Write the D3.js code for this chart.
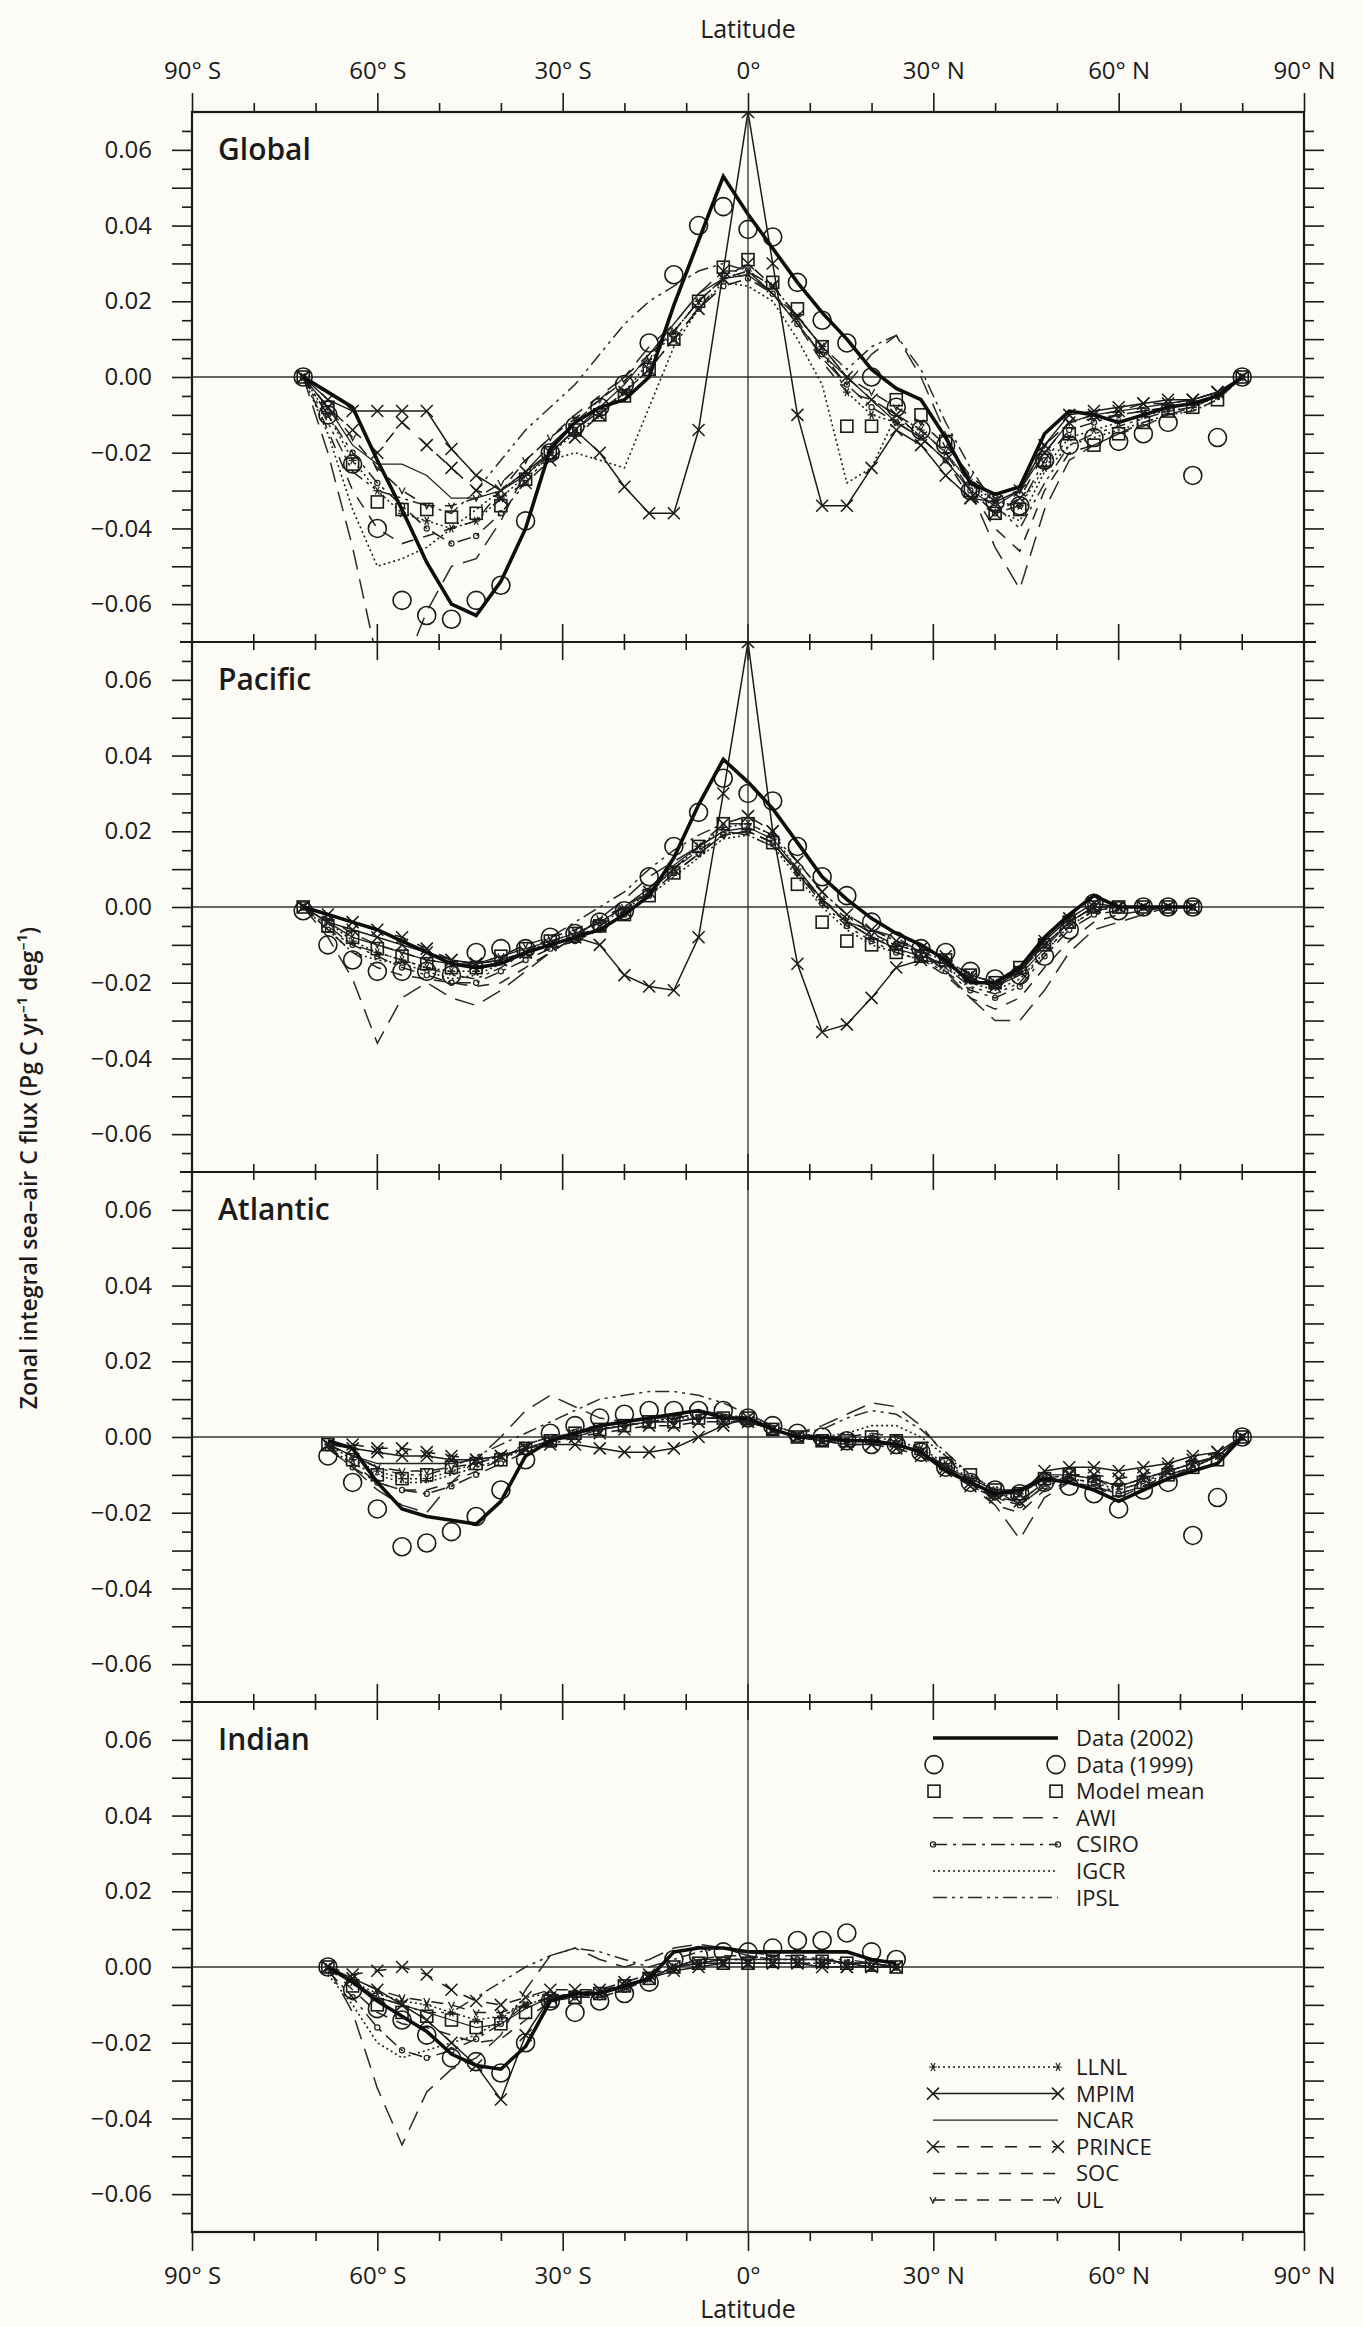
<!DOCTYPE html>
<html>
<head>
<meta charset="utf-8">
<script src="https://cdn.jsdelivr.net/npm/d3@7"></script>
<style>
body { margin: 0; background: #fcfbf6; }
svg { display: block; }
text { font-family: "Open Sans", "Noto Sans", sans-serif; fill: #1b1b1b; }
</style>
</head>
<body>
<svg id="chart" width="1363" height="2327"></svg>
<script>
// latitude grid (deg), flux values in 10^-3 Pg C yr-1 deg-1
const lats = [-72,-68,-64,-60,-56,-52,-48,-44,-40,-36,-32,-28,-24,-20,-16,-12,-8,-4,0,4,8,12,16,20,24,28,32,36,40,44,48,52,56,60,64,68,72,76,80]

// Global
const glo_data2002 = [0,-4,-8,-22,-35,-49,-60,-63,-54,-40, -19,-12,-8,-6,0,19,36,53,43,34, 25,17,10,2,-3,-6,-16,-28,-31,-29, -15,-9,-10,-12,-10,-8,-7,-5,0]
const glo_data1999 = [0,-10,-23,-40,-59,-63,-64,-59,-55,-38, -20,-13,-8,-2,9,27,40,45,39,37, 25,15,9,0,-8,-14,-18,-30,-33,-34, -22,-18,-16,-17,-15,-12,-26,-16,0]
const glo_mean = [0,-8,-23,-33,-35,-35,-37,-36,-34,-27, -20,-14,-10,-5,2,10,20,29,31,25, 18,8,-13,-13,-6,-10,-17,-30,-36,-35, -22,-15,-18,-15,-12,-9,-8,-6,0]
const glo_awi = [0,-20,-45,-75,-78,-62,-50,-48,-38,-25, -18,-12,-6,0,8,14,22,28,28,22, 15,5,-2,6,11,0,-15,-30,-45,-56, -35,-22,-18,-15,-13,-10,-8,-5,0]
const glo_csiro = [0,-10,-20,-28,-34,-40,-44,-42,-36,-28, -20,-14,-9,-4,2,10,18,24,26,22, 14,6,-2,-8,-12,-16,-22,-30,-36,-34, -22,-14,-12,-10,-9,-8,-7,-5,0]
const glo_igcr = [0,-15,-35,-50,-48,-45,-40,-35,-30,-25, -22,-20,-22,-24,-8,8,18,25,24,20, 10,-2,-28,-24,-10,-14,-20,-28,-35,-38, -25,-18,-16,-14,-12,-10,-9,-6,0]
const glo_ipsl = [0,-12,-25,-30,-32,-34,-36,-30,-22,-14, -8,-2,6,14,20,24,28,30,28,22, 16,8,2,8,11,2,-12,-24,-34,-40, -28,-18,-15,-13,-11,-9,-8,-5,0]
const glo_llnl = [0,-10,-22,-30,-36,-38,-40,-38,-32,-26, -20,-15,-10,-4,4,12,20,26,28,24, 16,8,-4,-10,-12,-14,-20,-28,-33,-34, -24,-16,-14,-12,-10,-9,-8,-5,0]
const glo_mpim = [0,-6,-9,-9,-9,-9,-19,-26,-30,-25, -20,-14,-20,-29,-36,-36,-14,28,70,30, -10,-34,-34,-24,-14,-18,-26,-32,-33,-30, -18,-10,-9,-8,-7,-6,-6,-4,0]
const glo_ncar = [0,-8,-18,-23,-23,-26,-32,-32,-30,-26, -20,-14,-8,-2,6,14,22,26,27,22, 14,6,0,-6,-12,-16,-22,-30,-34,-30, -20,-12,-10,-9,-8,-7,-6,-4,0]
const glo_prince = [0,-8,-14,-20,-12,-18,-24,-30,-32,-28, -22,-16,-10,-4,2,10,18,26,30,24, 16,8,0,-6,-10,-16,-22,-32,-36,-32, -20,-12,-10,-9,-7,-7,-6,-4,0]
const glo_soc = [0,-14,-30,-40,-44,-42,-40,-38,-30,-22, -16,-10,-5,0,6,12,20,26,27,22, 14,4,-4,-6,-10,-14,-20,-30,-40,-46, -30,-20,-18,-15,-12,-10,-9,-6,0]
const glo_ul = [0,-8,-16,-24,-30,-34,-34,-32,-28,-22, -16,-11,-6,-1,5,12,20,26,28,24, 16,8,0,-4,-8,-12,-18,-26,-32,-30, -18,-12,-11,-10,-9,-8,-7,-5,0]

// Pacific (ends at 72 N)
const pac_data2002 = [0,-2,-4,-6,-9,-12,-15,-16,-15,-12, -10,-8,-6,-2,3,13,27,39,33,26, 17,8,2,-3,-7,-10,-14,-20,-20,-16, -8,-2,3,0,0,0,0]
const pac_data1999 = [-1,-10,-14,-17,-17,-17,-18,-12,-11,-11, -8,-7,-4,-1,8,16,25,34,30,28, 16,8,3,-4,-9,-11,-12,-17,-19,-18, -13,-6,1,-1,0,0,0]
const pac_mean = [0,-5,-8,-11,-13,-15,-16,-16,-13,-11, -9,-7,-5,-2,3,9,16,22,22,17, 6,-4,-9,-10,-12,-13,-14,-18,-20,-16, -10,-4,0,0,0,0,0]
const pac_awi = [0,-8,-19,-36,-24,-20,-24,-26,-22,-17, -12,-8,-3,2,8,12,16,20,19,16, 10,2,-4,-6,-8,-12,-17,-24,-30,-30, -22,-12,-6,-4,-2,0,0]
const pac_csiro = [0,-6,-10,-13,-16,-18,-20,-20,-17,-14, -11,-9,-6,-2,3,9,14,19,20,17, 9,1,-5,-9,-12,-14,-17,-22,-24,-21, -13,-6,-2,-1,0,0,0]
const pac_igcr = [0,-6,-12,-14,-15,-17,-19,-18,-15,-12, -10,-8,-6,-2,3,8,13,18,19,16, 8,0,-6,-10,-12,-14,-16,-20,-22,-19, -12,-5,-1,0,0,0,0]
const pac_ipsl = [0,-5,-10,-12,-14,-16,-18,-19,-16,-12, -8,-4,0,4,10,15,19,22,22,19, 12,4,-2,-6,-9,-12,-16,-21,-23,-20, -12,-5,-1,0,0,0,0]
const pac_llnl = [0,-4,-9,-12,-14,-16,-17,-17,-14,-12, -9,-7,-4,-1,4,10,16,21,22,19, 10,2,-4,-8,-10,-12,-14,-18,-20,-17, -10,-4,0,0,0,0,0]
const pac_mpim = [0,-4,-6,-8,-10,-12,-14,-15,-14,-12, -10,-8,-10,-18,-21,-22,-8,30,70,20, -15,-33,-31,-24,-16,-14,-15,-19,-21,-17, -9,-3,1,0,0,0,0]
const pac_ncar = [0,-4,-8,-10,-12,-14,-15,-15,-13,-11, -9,-7,-4,0,5,11,16,20,21,18, 10,2,-4,-8,-11,-13,-15,-19,-21,-18, -11,-4,0,0,0,0,0]
const pac_prince = [0,-2,-4,-6,-8,-11,-14,-15,-14,-12, -10,-8,-5,-1,4,10,16,22,24,20, 12,4,-2,-6,-9,-11,-13,-18,-20,-17, -10,-4,0,0,0,0,0]
const pac_soc = [0,-6,-12,-16,-18,-19,-20,-21,-20,-16, -12,-8,-4,0,5,10,15,19,20,17, 9,1,-4,-8,-11,-14,-18,-24,-27,-24, -16,-9,-4,-2,-1,0,0]
const pac_ul = [0,-3,-7,-10,-12,-14,-15,-15,-13,-10, -8,-6,-3,0,4,9,14,19,20,17, 9,2,-3,-7,-10,-12,-14,-18,-20,-17, -10,-4,0,0,0,0,0]

// Atlantic (starts at 68 S)
const atl_data2002 = [null,-1,-3,-12,-19,-21,-22,-23,-17,-5, -1,1,3,4,5,6,7,5,5,2, 0,0,-1,-1,-2,-4,-9,-12,-15,-14, -11,-12,-14,-17,-14,-11,-9,-7,0]
const atl_data1999 = [null,-5,-12,-19,-29,-28,-25,-21,-14,-6, 1,3,5,6,7,7,7,7,5,3, 1,0,-1,-2,-2,-4,-8,-12,-14,-15, -12,-13,-15,-19,-14,-12,-26,-16,0]
const atl_mean = [null,-2,-6,-10,-11,-10,-8,-7,-6,-3, -1,1,2,3,4,4,5,5,5,2, 0,-1,-1,0,-1,-3,-7,-10,-14,-15, -11,-10,-12,-14,-12,-10,-8,-6,0]
const atl_awi = [null,-3,-8,-14,-18,-20,-12,-6,0,7, 11,8,5,4,5,6,7,6,4,2, 1,3,6,9,8,3,-5,-12,-18,-27, -16,-12,-13,-16,-13,-11,-8,-5,0]
const atl_csiro = [null,-3,-8,-12,-14,-15,-13,-10,-7,-4, -2,0,2,3,4,4,5,5,4,2, 0,-1,-1,-1,-2,-4,-8,-12,-16,-18, -13,-11,-12,-15,-13,-10,-8,-5,0]
const atl_igcr = [null,-3,-7,-10,-12,-12,-10,-8,-6,-3, -1,1,2,3,4,5,6,6,5,3, 1,0,1,3,3,0,-5,-10,-14,-17, -12,-11,-12,-14,-12,-10,-8,-5,0]
const atl_ipsl = [null,-2,-5,-8,-10,-10,-8,-5,-2,1, 4,7,10,11,12,12,11,9,6,3, 1,2,5,7,6,2,-4,-10,-14,-18, -13,-10,-11,-14,-12,-9,-7,-5,0]
const atl_llnl = [null,-2,-6,-9,-11,-11,-9,-7,-5,-3, -1,1,2,3,4,5,5,5,4,2, 0,-1,-1,0,-1,-3,-7,-11,-14,-15, -11,-10,-11,-13,-11,-9,-7,-5,0]
const atl_mpim = [null,-2,-3,-4,-5,-5,-6,-6,-5,-3, -2,-2,-3,-4,-4,-3,0,3,5,2, 0,-1,-2,-2,-2,-4,-8,-12,-15,-15, -9,-8,-8,-9,-8,-7,-5,-4,0]
const atl_ncar = [null,-2,-5,-7,-7,-7,-7,-6,-5,-3, -1,0,2,3,4,4,5,5,5,2, 0,-1,-1,-1,-2,-4,-8,-11,-14,-14, -10,-10,-11,-13,-11,-9,-7,-5,0]
const atl_prince = [null,-2,-2,-3,-3,-4,-5,-6,-5,-3, -1,0,1,2,3,3,4,4,4,2, 0,-1,-2,-2,-3,-5,-9,-13,-16,-17, -12,-10,-10,-11,-10,-8,-6,-4,0]
const atl_soc = [null,-3,-7,-12,-14,-14,-12,-9,-6,-2, 0,2,3,4,5,5,6,6,5,3, 1,0,0,1,0,-3,-8,-13,-18,-20, -14,-12,-13,-15,-13,-11,-8,-5,0]
const atl_ul = [null,-2,-5,-8,-9,-9,-8,-7,-5,-2, 0,1,2,3,4,4,5,5,4,2, 0,-1,-1,-1,-2,-4,-8,-11,-14,-15, -11,-10,-11,-13,-11,-9,-7,-5,0]

// Indian (68 S to 24 N)
const ind_data2002 = [null,0,-4,-9,-13,-17,-23,-26,-27,-21, -9,-7,-7,-5,-3,4,5,5,4,4, 4,4,4,2,1]
const ind_data1999 = [null,0,-6,-11,-14,-18,-24,-25,-28,-20, -9,-12,-9,-7,-4,2,3,4,4,5, 7,7,9,4,2]
const ind_mean = [null,0,-5,-10,-12,-13,-14,-16,-15,-12, -9,-8,-7,-5,-3,0,1,1,1,1.5, 1.5,1.5,1,0.5,0]
const ind_awi = [null,0,-12,-32,-47,-33,-27,-24,-18,-6, 3,5,2,0,2,5,6,5,3,2, 2,2,1,0,0]
const ind_csiro = [null,-1,-8,-16,-22,-24,-22,-19,-15,-10, -8,-8,-8,-6,-3,0,1,2,2,2, 2,2,1,1,0]
const ind_igcr = [null,-2,-10,-20,-24,-22,-20,-18,-14,-8, -7,-8,-8,-6,-3,0,1,2,2,2, 2,2,1,1,0]
const ind_ipsl = [null,0,-4,-8,-10,-12,-12,-8,-4,0, 3,5,4,2,0,2,4,5,4,3, 3,2,2,1,0]
const ind_llnl = [null,0,-4,-7,-9,-10,-12,-14,-13,-10, -8,-7,-7,-5,-3,0,1,1,1,1, 1,1,1,0,0]
const ind_mpim = [null,0,-3,-6,-10,-14,-20,-26,-35,-18, -8,-8,-7,-5,-3,-1,0,1,1,1, 1,0,0,0,0]
const ind_ncar = [null,0,-4,-8,-10,-12,-14,-16,-15,-11, -8,-7,-7,-5,-3,0,2,2,2,2, 2,2,1,1,0]
const ind_prince = [null,0,-2,-1,0,-2,-6,-9,-10,-8, -6,-6,-6,-4,-2,0,1,1,1,1, 1,1,0,0,0]
const ind_soc = [null,0,-6,-12,-15,-16,-18,-20,-19,-14, -9,-8,-8,-6,-3,0,2,3,3,2, 2,2,1,1,0]
const ind_ul = [null,0,-3,-6,-8,-9,-10,-12,-12,-10, -8,-7,-6,-5,-3,0,1,1,1,1, 1,1,1,0,0]

const panelNames = ["Global", "Pacific", "Atlantic", "Indian"]
const latTicks = [-90, -60, -30, 0, 30, 60, 90]

const panelSeries = [
	{ data2002: glo_data2002, data1999: glo_data1999, mean: glo_mean, awi: glo_awi, csiro: glo_csiro, igcr: glo_igcr, ipsl: glo_ipsl, llnl: glo_llnl, mpim: glo_mpim, ncar: glo_ncar, prince: glo_prince, soc: glo_soc, ul: glo_ul },
	{ data2002: pac_data2002, data1999: pac_data1999, mean: pac_mean, awi: pac_awi, csiro: pac_csiro, igcr: pac_igcr, ipsl: pac_ipsl, llnl: pac_llnl, mpim: pac_mpim, ncar: pac_ncar, prince: pac_prince, soc: pac_soc, ul: pac_ul },
	{ data2002: atl_data2002, data1999: atl_data1999, mean: atl_mean, awi: atl_awi, csiro: atl_csiro, igcr: atl_igcr, ipsl: atl_ipsl, llnl: atl_llnl, mpim: atl_mpim, ncar: atl_ncar, prince: atl_prince, soc: atl_soc, ul: atl_ul },
	{ data2002: ind_data2002, data1999: ind_data1999, mean: ind_mean, awi: ind_awi, csiro: ind_csiro, igcr: ind_igcr, ipsl: ind_ipsl, llnl: ind_llnl, mpim: ind_mpim, ncar: ind_ncar, prince: ind_prince, soc: ind_soc, ul: ind_ul },
]

const modelKeys = ["awi", "csiro", "igcr", "ipsl", "llnl", "mpim", "ncar", "prince", "soc", "ul"]
const legendTop = [["data2002", "Data (2002)"], ["data1999", "Data (1999)"], ["mean", "Model mean"], ["awi", "AWI"], ["csiro", "CSIRO"], ["igcr", "IGCR"], ["ipsl", "IPSL"]]
const legendBottom = [["llnl", "LLNL"], ["mpim", "MPIM"], ["ncar", "NCAR"], ["prince", "PRINCE"], ["soc", "SOC"], ["ul", "UL"]]

// line styles
const styles = {
	awi: { dash: "20,10", w: 1.5, color: "#2a2a2a" },
	csiro: { dash: "14,6,3,6", w: 1.5, color: "#1e1e1e", marker: "dot" },
	igcr: { dash: "2,3", w: 1.6, color: "#1e1e1e" },
	ipsl: { dash: "14,5,3,5,3,5", w: 1.5, color: "#2a2a2a" },
	llnl: { dash: "2,3", w: 1.5, color: "#1a1a1a", marker: "star" },
	mpim: { dash: null, w: 1.5, color: "#1a1a1a", marker: "x" },
	ncar: { dash: null, w: 1.3, color: "#222" },
	prince: { dash: "12,12", w: 1.5, color: "#1a1a1a", marker: "x" },
	soc: { dash: "12,10", w: 1.5, color: "#222" },
	ul: { dash: "12,10", w: 1.5, color: "#1e1e1e", marker: "v" },
}

const left = 192, right = 1304, top0 = 112, panelH = 530
const svg = d3.select("#chart")

const x = d3.scaleLinear().domain([-90, 90]).range([left, right])

const latFmt = d => (d < 0 ? -d + "° S" : d > 0 ? d + "° N" : "0°")
const fluxFmt = d => (d % 20 !== 0 ? "" : d === 0 ? "0.00" : (d < 0 ? "−" : "") + Math.abs(d / 1000).toFixed(2))

function drawMarker(g, type, px, py) {
	if (type === "x") {
		g.append("path").attr("d", `M${px - 6},${py - 6}L${px + 6},${py + 6}M${px - 6},${py + 6}L${px + 6},${py - 6}`)
			.attr("stroke", "#1a1a1a").attr("stroke-width", 1.5).attr("fill", "none")
	} else if (type === "star") {
		g.append("path").attr("d", `M${px - 4},${py}L${px + 4},${py}M${px - 2},${py - 4}L${px + 2},${py + 4}M${px - 2},${py + 4}L${px + 2},${py - 4}`)
			.attr("stroke", "#222").attr("stroke-width", 1.2).attr("fill", "none")
	} else if (type === "dot") {
		g.append("circle").attr("cx", px).attr("cy", py).attr("r", 2.6)
			.attr("stroke", "#222").attr("stroke-width", 1.2).attr("fill", "none")
	} else if (type === "v") {
		g.append("path").attr("d", `M${px - 3},${py - 3}L${px},${py + 3}L${px + 3},${py - 3}`)
			.attr("stroke", "#222").attr("stroke-width", 1.3).attr("fill", "none")
	} else if (type === "circle") {
		g.append("circle").attr("cx", px).attr("cy", py).attr("r", 9)
			.attr("stroke", "#1a1a1a").attr("stroke-width", 1.6).attr("fill", "none")
	} else if (type === "square") {
		g.append("rect").attr("x", px - 6).attr("y", py - 6).attr("width", 12).attr("height", 12)
			.attr("stroke", "#1a1a1a").attr("stroke-width", 1.6).attr("fill", "none")
	}
}

panelNames.forEach((name, i) => {
	const top = top0 + i * panelH
	const y = d3.scaleLinear().domain([-70, 70]).range([top + panelH, top])
	const series = panelSeries[i]

	svg.append("clipPath").attr("id", "clip" + i)
		.append("rect").attr("x", left).attr("y", top).attr("width", right - left).attr("height", panelH)

	// y axes, long ticks every 0.01, short every 0.005
	const yLong = d3.range(-60, 61, 10)
	const yShort = d3.range(-65, 66, 10)
	svg.append("g").attr("transform", `translate(${left},0)`)
		.call(d3.axisLeft(y).tickValues(yLong).tickSize(20).tickPadding(20).tickFormat(fluxFmt))
		.call(g => g.select(".domain").remove())
		.call(g => g.selectAll("text").attr("font-size", 24).attr("font-family", "Open Sans"))
	svg.append("g").attr("transform", `translate(${left},0)`)
		.call(d3.axisLeft(y).tickValues(yShort).tickSize(10).tickFormat(""))
		.call(g => g.select(".domain").remove())
	svg.append("g").attr("transform", `translate(${right},0)`)
		.call(d3.axisRight(y).tickValues(yLong).tickSize(20).tickFormat(""))
		.call(g => g.select(".domain").remove())
	svg.append("g").attr("transform", `translate(${right},0)`)
		.call(d3.axisRight(y).tickValues(yShort).tickSize(10).tickFormat(""))
		.call(g => g.select(".domain").remove())
	svg.selectAll(".tick line").attr("stroke", "#1a1a1a").attr("stroke-width", 1.6)

	// zero line
	svg.append("line").attr("x1", left).attr("x2", right).attr("y1", y(0)).attr("y2", y(0))
		.attr("stroke", "#333").attr("stroke-width", 1.4)

	const plot = svg.append("g").attr("clip-path", `url(#clip${i})`)
	const line = d3.line().defined(d => d[1] != null).x(d => x(d[0])).y(d => y(d[1]))

	modelKeys.forEach(k => {
		const st = styles[k]
		const pts = lats.map((lat, j) => [lat, series[k][j]])
		plot.append("path").datum(pts).attr("d", line)
			.attr("fill", "none").attr("stroke", st.color).attr("stroke-width", st.w)
			.attr("stroke-dasharray", st.dash)
		if (st.marker) {
			pts.filter(d => d[1] != null).forEach(d => drawMarker(plot, st.marker, x(d[0]), y(d[1])))
		}
	})

	lats.forEach((lat, j) => {
		const v = series.mean[j]
		if (v != null) drawMarker(plot, "square", x(lat), y(v))
	})
	lats.forEach((lat, j) => {
		const v = series.data1999[j]
		if (v != null) drawMarker(plot, "circle", x(lat), y(v))
	})
	plot.append("path").datum(lats.map((lat, j) => [lat, series.data2002[j]])).attr("d", line)
		.attr("fill", "none").attr("stroke", "#0d0d0d").attr("stroke-width", 3.6).attr("stroke-linejoin", "miter")

	svg.append("text").attr("x", 218).attr("y", top + 48).attr("font-size", 30).attr("font-weight", 600)
		.text(name)

	// panel divider with crossing ticks
	if (i > 0) {
		d3.range(-80, 81, 10).forEach(d => {
			const len = d % 30 === 0 ? 18 : 8
			svg.append("line").attr("x1", x(d)).attr("x2", x(d)).attr("y1", top - len).attr("y2", top + len)
				.attr("stroke", "#1a1a1a").attr("stroke-width", 1.6)
		})
		svg.append("line").attr("x1", left - 12).attr("x2", right + 12).attr("y1", top).attr("y2", top)
			.attr("stroke", "#1a1a1a").attr("stroke-width", 2.2)
	}
})

// vertical line at the equator
svg.append("line").attr("x1", x(0)).attr("x2", x(0)).attr("y1", top0).attr("y2", top0 + 4 * panelH)
	.attr("stroke", "#2a2a2a").attr("stroke-width", 1.3)

// frame
svg.append("rect").attr("x", left).attr("y", top0).attr("width", right - left).attr("height", 4 * panelH)
	.attr("fill", "none").attr("stroke", "#1a1a1a").attr("stroke-width", 2.2)

// top and bottom latitude axes
const minorLat = d3.range(-80, 81, 10).filter(d => d % 30 !== 0)
svg.append("g").attr("transform", `translate(0,${top0})`)
	.call(d3.axisTop(x).tickValues(latTicks).tickSize(19).tickPadding(14).tickFormat(latFmt))
	.call(g => g.select(".domain").remove())
svg.append("g").attr("transform", `translate(0,${top0})`)
	.call(d3.axisTop(x).tickValues(minorLat).tickSize(9).tickFormat(""))
	.call(g => g.select(".domain").remove())
svg.append("g").attr("transform", `translate(0,${top0 + 4 * panelH})`)
	.call(d3.axisBottom(x).tickValues(latTicks).tickSize(19).tickPadding(16).tickFormat(latFmt))
	.call(g => g.select(".domain").remove())
svg.append("g").attr("transform", `translate(0,${top0 + 4 * panelH})`)
	.call(d3.axisBottom(x).tickValues(minorLat).tickSize(9).tickFormat(""))
	.call(g => g.select(".domain").remove())
svg.selectAll(".tick line").attr("stroke", "#1a1a1a").attr("stroke-width", 1.6)
svg.selectAll(".tick text").attr("font-size", 24).attr("font-family", "Open Sans").attr("fill", "#1b1b1b")

svg.append("text").attr("x", x(0)).attr("y", 38).attr("text-anchor", "middle").attr("font-size", 25).text("Latitude")
svg.append("text").attr("x", x(0)).attr("y", 2318).attr("text-anchor", "middle").attr("font-size", 25).text("Latitude")

svg.append("text").attr("transform", "translate(37,1168) rotate(-90)").attr("text-anchor", "middle")
	.attr("font-size", 23).attr("font-weight", 600)
	.text("Zonal integral sea–air C flux (Pg C yr⁻¹ deg⁻¹)")

// legend
function drawLegend(rows, y0) {
	rows.forEach(([k, label], r) => {
		const yy = y0 + r * 26.6
		const g = svg.append("g")
		if (k === "data2002") {
			g.append("line").attr("x1", 933).attr("x2", 1058).attr("y1", yy).attr("y2", yy)
				.attr("stroke", "#0d0d0d").attr("stroke-width", 3.6)
		} else if (k === "data1999") {
			drawMarker(g, "circle", 934, yy)
			drawMarker(g, "circle", 1056, yy)
		} else if (k === "mean") {
			drawMarker(g, "square", 934, yy)
			drawMarker(g, "square", 1056, yy)
		} else {
			const st = styles[k]
			g.append("line").attr("x1", 933).attr("x2", 1058).attr("y1", yy).attr("y2", yy)
				.attr("stroke", st.color).attr("stroke-width", st.w).attr("stroke-dasharray", st.dash)
			if (st.marker) {
				drawMarker(g, st.marker, 933, yy)
				drawMarker(g, st.marker, 1058, yy)
			}
		}
		g.append("text").attr("x", 1076).attr("y", yy).attr("dy", "0.36em").attr("font-size", 22).text(label)
	})
}
drawLegend(legendTop, 1738)
drawLegend(legendBottom, 2067)
</script>
</body>
</html>
